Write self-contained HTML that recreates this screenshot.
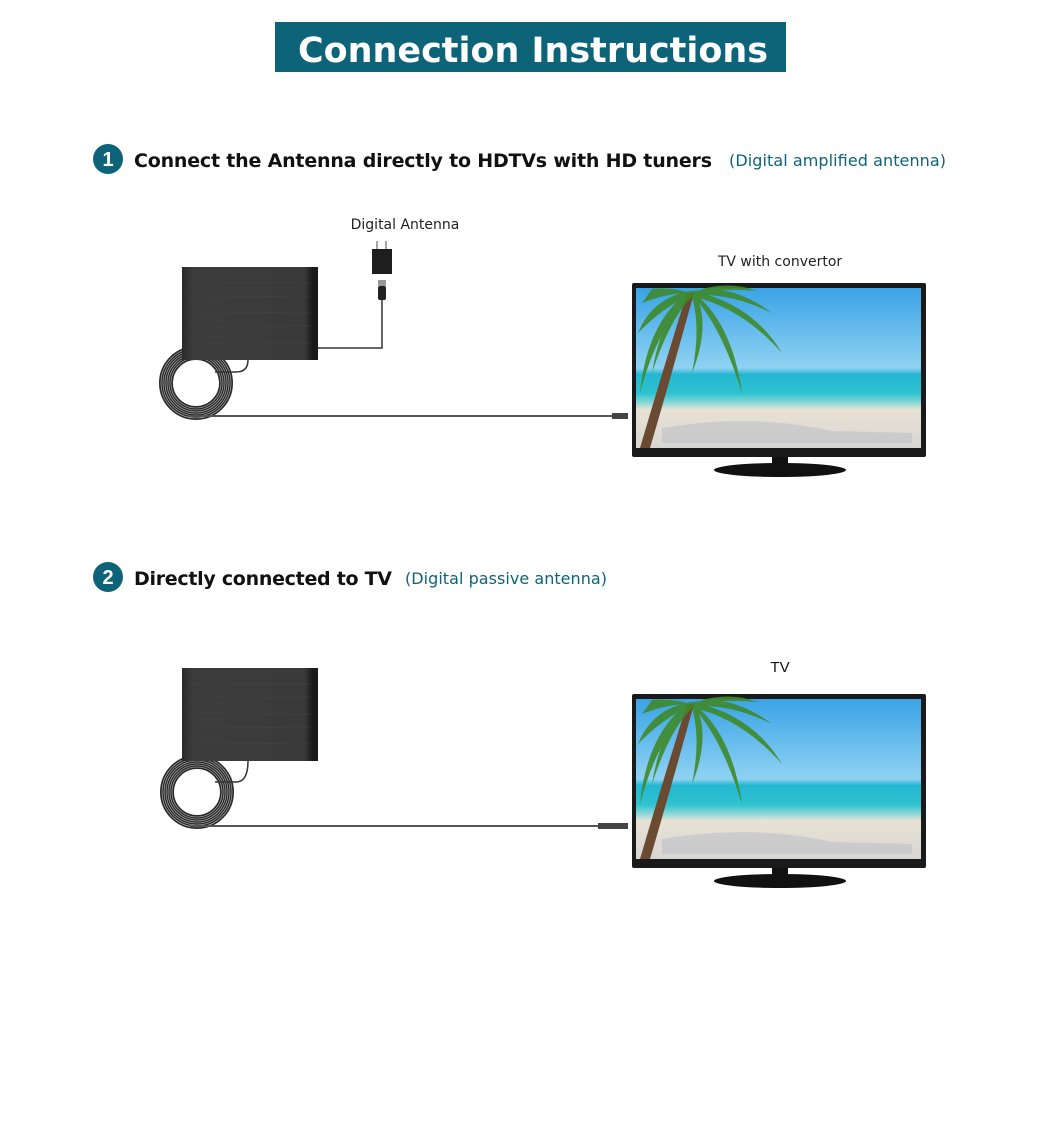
<!DOCTYPE html>
<html><head><meta charset="utf-8"><style>
body{margin:0;background:#fff;width:1045px;height:1122px;overflow:hidden;font-family:"Liberation Sans",sans-serif}
</style></head><body>
<svg width="1045" height="1122" viewBox="0 0 1045 1122" xmlns="http://www.w3.org/2000/svg">
<defs>
<linearGradient id="ant" x1="0" x2="1"><stop offset="0" stop-color="#2a2a2a"/><stop offset="0.08" stop-color="#3c3c3c"/><stop offset="0.9" stop-color="#3a3a3a"/><stop offset="0.96" stop-color="#1a1a1a"/></linearGradient>
<linearGradient id="sky" x1="0" y1="0" x2="0" y2="1">
<stop offset="0" stop-color="#3aa3e6"/><stop offset="0.5" stop-color="#8fd2f2"/><stop offset="0.54" stop-color="#23b6d2"/><stop offset="0.66" stop-color="#2fc3d0"/><stop offset="0.72" stop-color="#8fd9d6"/><stop offset="0.76" stop-color="#e8e2d4"/><stop offset="1" stop-color="#d8d6d4"/></linearGradient>
<g id="antenna">
<rect x="0" y="0" width="136" height="93" fill="url(#ant)"/>
<g stroke="#4a4a4a" stroke-width="0.6" opacity="0.6">
<line x1="5" y1="15" x2="130" y2="16"/><line x1="5" y1="30" x2="130" y2="29"/><line x1="5" y1="45" x2="130" y2="46"/><line x1="5" y1="60" x2="130" y2="59"/><line x1="5" y1="75" x2="130" y2="76"/></g>
</g>
<g id="coil">
<circle r="30" fill="none" stroke="#2a2a2a" stroke-width="14"/>
<g fill="none" stroke="#bbb" stroke-width="0.6">
<circle r="25"/><circle r="27"/><circle r="29"/><circle r="31"/><circle r="33"/><circle r="35"/></g>
</g>
<g id="tv">
<rect x="0" y="0" width="294" height="174" rx="2" fill="#1a1a1a"/>
<rect x="4" y="5" width="285" height="160" fill="url(#sky)"/>
<path d="M8 165 Q30 90 55 10 L62 10 Q40 90 18 165Z" fill="#6b4a32"/>
<g fill="#3f8a2a" opacity="0.9">
<path d="M58 8 Q20 15 6 50 Q30 25 58 12Z"/><path d="M58 8 Q70 40 60 90 Q80 40 62 8Z"/><path d="M62 8 Q100 0 140 30 Q100 10 62 12Z"/><path d="M60 8 Q120 20 150 70 Q110 25 62 14Z"/><path d="M58 10 Q30 30 20 90 Q38 35 60 14Z"/><path d="M70 6 Q100 -2 125 8 Q95 5 70 10Z"/>
<path d="M55 10 Q15 40 8 110 Q25 45 58 14Z"/><path d="M62 10 Q100 40 110 110 Q90 45 62 14Z"/><path d="M20 6 Q40 4 58 10 Q35 10 10 20Z"/>
</g>
<path d="M30 145 Q120 130 200 148 L280 150 L280 160 L30 160Z" fill="#b8bcc4" opacity="0.5"/>
<rect x="140" y="174" width="16" height="9" fill="#111"/>
<ellipse cx="148" cy="187" rx="66" ry="7" fill="#111"/>
</g>
</defs>

<rect x="275" y="22" width="511" height="50" fill="#0d6479"/>
<text x="533" y="62" text-anchor="middle" font-family="'DejaVu Sans',sans-serif" font-weight="bold" font-size="35" fill="#fff" textLength="470" lengthAdjust="spacingAndGlyphs">Connection Instructions</text>

<circle cx="108" cy="159" r="15" fill="#0d6479"/>
<text x="108" y="166" text-anchor="middle" font-weight="bold" font-size="20" fill="#fff">1</text>
<text x="134" y="167" font-family="'DejaVu Sans',sans-serif" font-weight="bold" font-size="19" fill="#111" textLength="578">Connect the Antenna directly to HDTVs with HD tuners</text>
<text x="729" y="166" font-family="'DejaVu Sans',sans-serif" font-size="16" fill="#0d6479" textLength="217">(Digital amplified antenna)</text>

<circle cx="108" cy="577" r="15" fill="#0d6479"/>
<text x="108" y="584" text-anchor="middle" font-weight="bold" font-size="20" fill="#fff">2</text>
<text x="134" y="585" font-family="'DejaVu Sans',sans-serif" font-weight="bold" font-size="19" fill="#111" textLength="258">Directly connected to TV</text>
<text x="405" y="584" font-family="'DejaVu Sans',sans-serif" font-size="16" fill="#0d6479" textLength="202">(Digital passive antenna)</text>

<text x="405" y="229" text-anchor="middle" font-family="'DejaVu Sans',sans-serif" font-size="14" fill="#222">Digital Antenna</text>
<text x="780" y="266" text-anchor="middle" font-family="'DejaVu Sans',sans-serif" font-size="14" fill="#222">TV with convertor</text>
<text x="780" y="672" text-anchor="middle" font-size="15" fill="#111">TV</text>

<!-- section 1 -->
<use href="#coil" x="196" y="383"/>
<use href="#antenna" x="182" y="267"/>
<path d="M248 360 Q248 372 236 372 L215 372" fill="none" stroke="#333" stroke-width="1.5"/>
<path d="M318 348 L382 348 L382 300" fill="none" stroke="#333" stroke-width="1.5"/>
<rect x="372" y="249" width="20" height="25" fill="#1e1e1e"/>
<line x1="377" y1="241" x2="377" y2="249" stroke="#888" stroke-width="1.5"/>
<line x1="386" y1="241" x2="386" y2="249" stroke="#888" stroke-width="1.5"/>
<rect x="378" y="280" width="8" height="6" fill="#999"/>
<rect x="378" y="286" width="8" height="14" rx="2" fill="#222"/>
<line x1="187" y1="416" x2="612" y2="416" stroke="#555" stroke-width="2"/>
<rect x="612" y="413" width="16" height="6" fill="#444"/>
<use href="#tv" x="632" y="283"/>

<!-- section 2 -->
<use href="#coil" x="197" y="792"/>
<use href="#antenna" x="182" y="668"/>
<path d="M248 761 Q248 782 236 782 L215 782" fill="none" stroke="#333" stroke-width="1.5"/>
<line x1="190" y1="826" x2="598" y2="826" stroke="#555" stroke-width="2"/>
<rect x="598" y="823" width="30" height="6" fill="#444"/>
<use href="#tv" x="632" y="694"/>
</svg>
</body></html>
